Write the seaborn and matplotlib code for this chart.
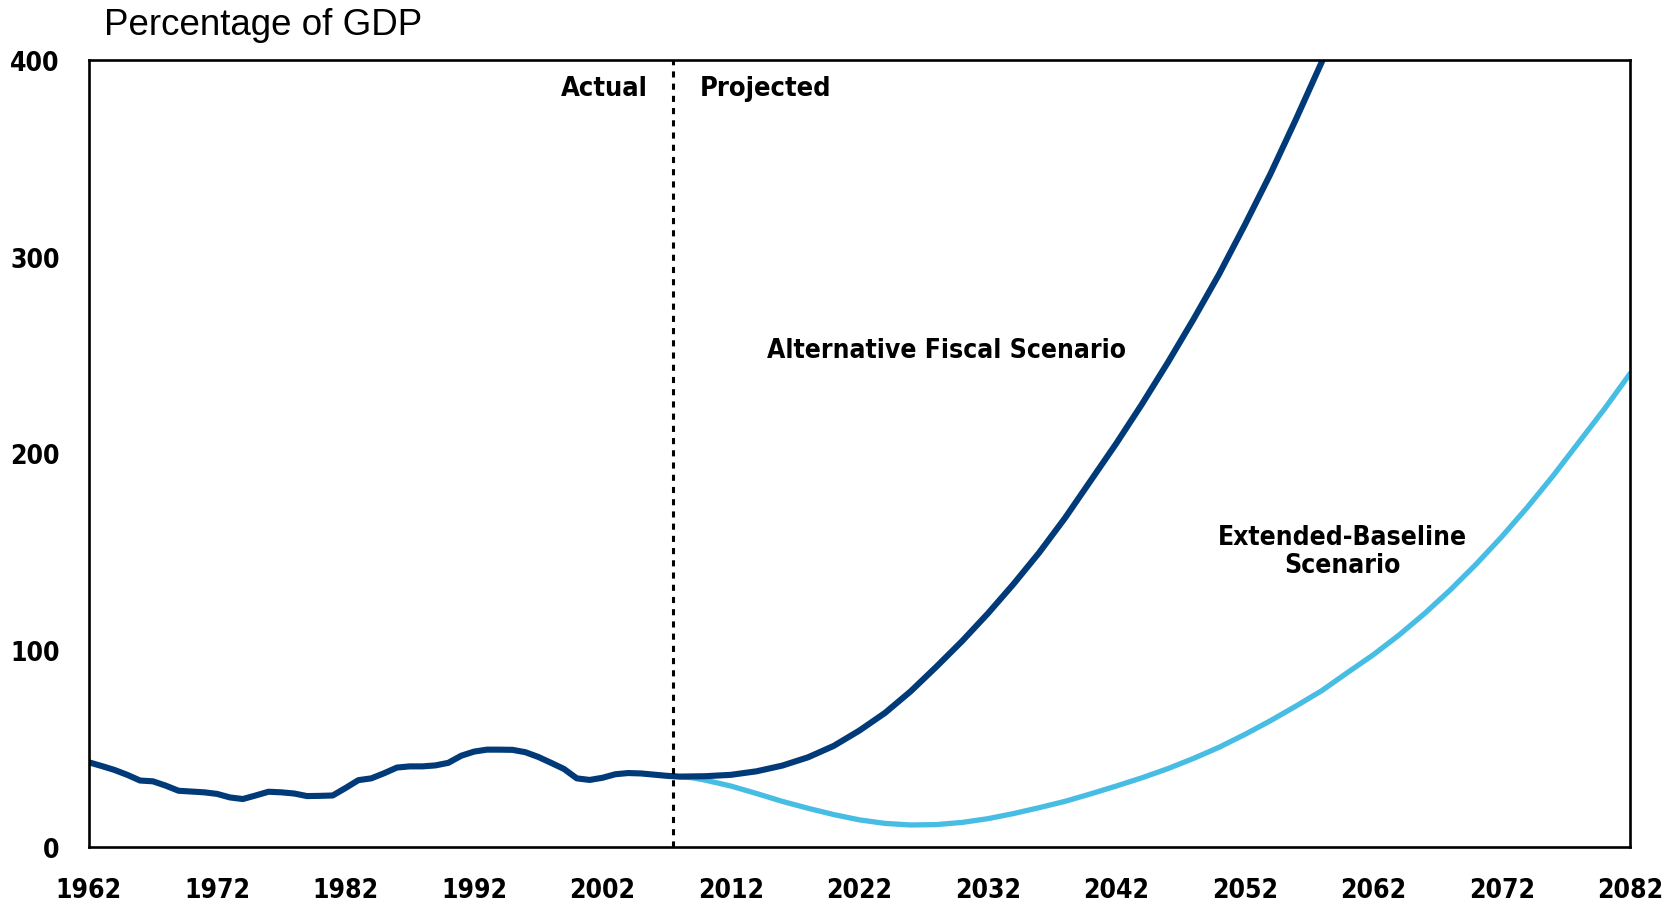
import matplotlib
matplotlib.use("Agg")
from matplotlib import pyplot as plt
import seaborn as sns
import pandas as pd

# federal debt held by the public, percent of GDP
actual_years = list(range(1962, 2009))
actual_debt = [42.9, 41.0, 39.0, 36.5, 33.6, 33.2, 31.0, 28.4, 28.0, 27.6,
               26.8, 25.0, 24.2, 26.0, 27.9, 27.6, 27.0, 25.7, 25.8, 26.0,
               29.8, 33.8, 34.7, 37.3, 40.2, 40.8, 40.8, 41.3, 42.6, 46.2,
               48.3, 49.3, 49.3, 49.2, 48.0, 45.6, 42.6, 39.5, 34.7, 33.9,
               35.0, 36.8, 37.4, 37.2, 36.6, 36.0, 35.6]

alt_years = [2010, 2012, 2014, 2016, 2018, 2020, 2022, 2024, 2026, 2028,
             2030, 2032, 2034, 2036, 2038, 2040, 2042, 2044, 2046, 2048,
             2050, 2052, 2054, 2056, 2058, 2060]
alt_debt = [35.8, 36.5, 38.3, 41.2, 45.4, 51.2, 59.0, 68.0, 79.0, 91.5,
            104.5, 118.5, 133.5, 149.5, 167.0, 186.0, 205.0, 225.0, 246.0, 268.0,
            291.0, 316.0, 342.0, 370.0, 399.0, 429.0]

ext_years = [2008, 2009, 2010, 2012, 2014, 2016, 2018, 2020, 2022, 2024,
             2026, 2028, 2030, 2032, 2034, 2036, 2038, 2040, 2042, 2044,
             2046, 2048, 2050, 2052, 2054, 2056, 2058, 2060, 2062, 2064,
             2066, 2068, 2070, 2072, 2074, 2076, 2078, 2080, 2082]
ext_debt = [35.6, 35.0, 33.8, 30.8, 27.0, 23.0, 19.5, 16.3, 13.6, 11.8,
            11.0, 11.2, 12.3, 14.2, 16.8, 19.8, 23.0, 26.8, 30.8, 35.0,
            39.6, 44.8, 50.5, 57.0, 64.0, 71.5, 79.3, 88.5, 97.5, 107.5,
            118.5, 130.5, 143.5, 157.5, 172.5, 188.5, 205.5, 222.5, 240.5]

NAVY = "#003a78"
SKY = "#48bde3"

sns.set_style("white")
plt.rcParams["font.family"] = ["DejaVu Sans"]
plt.rcParams["font.stretch"] = "condensed"
plt.rcParams["text.color"] = "black"
plt.rcParams["xtick.color"] = "black"
plt.rcParams["ytick.color"] = "black"

fig = plt.figure(figsize=(16.76, 9.12), dpi=100)
ax = fig.add_axes([0.0529, 0.0706, 0.9197, 0.8626])

dark = pd.DataFrame({"year": actual_years + alt_years,
                     "debt": actual_debt + alt_debt})
light = pd.DataFrame({"year": ext_years, "debt": ext_debt})

sns.lineplot(data=light, x="year", y="debt", color=SKY, lw=3.8, ax=ax)
sns.lineplot(data=dark, x="year", y="debt", color=NAVY, lw=4.4, ax=ax)

ax.axvline(2007.5, color="black", lw=2.2, linestyle=(0, (2, 2)))

ax.set_xlim(1962, 2082)
ax.set_ylim(0, 400)
ax.set_xticks(range(1962, 2083, 10))
ax.set_yticks(range(0, 401, 100))
ax.set_xlabel("")
ax.set_ylabel("")

for s in ax.spines.values():
    s.set_linewidth(1.9)
    s.set_color("black")

ax.tick_params(axis="x", direction="in", length=15, width=1.2, pad=22,
               labelsize=19, colors="black")
ax.tick_params(axis="y", length=0, pad=21, labelsize=19, colors="black")
for lab in ax.get_xticklabels() + ax.get_yticklabels():
    lab.set_fontweight("bold")

# annotations
ax.text(2005.5, 385.5, "Actual", ha="right", va="center", fontsize=19.5,
        fontweight="bold")
ax.text(2009.6, 385.5, "Projected", ha="left", va="center", fontsize=19.5,
        fontweight="bold")
ax.text(2028.8, 252.7, "Alternative Fiscal Scenario", ha="center",
        va="center", fontsize=19, fontweight="bold")
ax.text(2059.6, 150.5, "Extended-Baseline\nScenario", ha="center",
        va="center", fontsize=19, fontweight="bold", linespacing=1.1)

fig.text(0.0619, 0.972, "Percentage of GDP", ha="left", va="center",
         fontsize=26.5, family=["Liberation Sans", "DejaVu Sans"],
         stretch="normal")

fig.savefig("out.png", dpi=100)
